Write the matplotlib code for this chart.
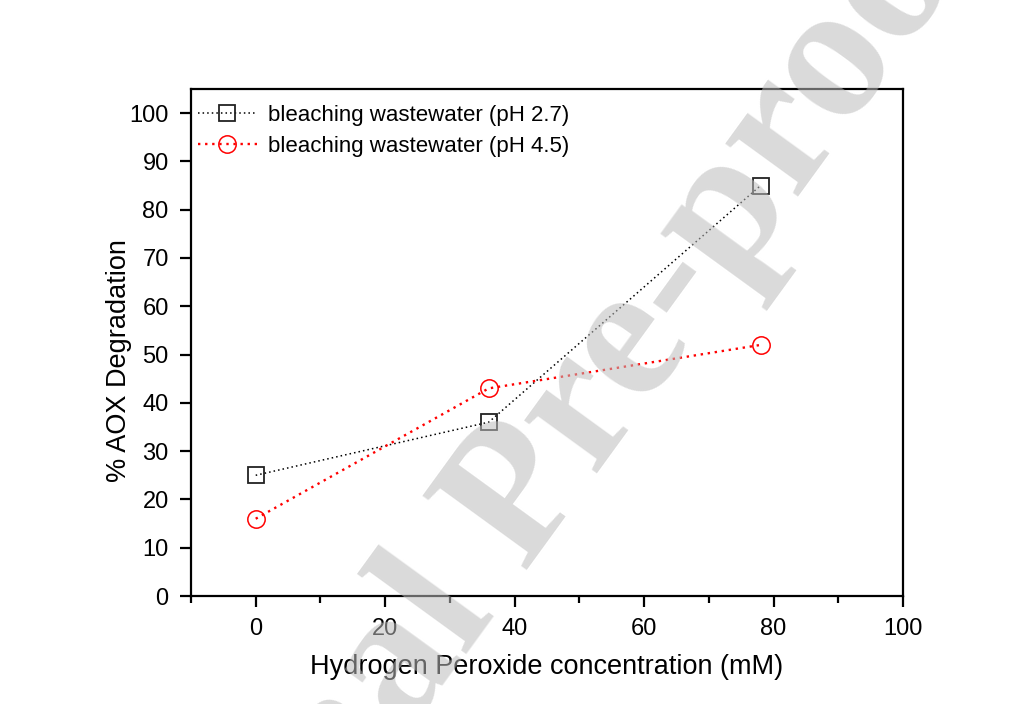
import matplotlib
matplotlib.use('Agg')
import matplotlib.pyplot as plt
from matplotlib.ticker import MultipleLocator

plt.rcParams['font.family'] = ['Liberation Sans', 'DejaVu Sans']

h2o2_mM = [0, 36, 78]
aox_ph27 = [25, 36, 85]
aox_ph45 = [16, 43, 52]
label_ph27 = 'bleaching wastewater (pH 2.7)'
label_ph45 = 'bleaching wastewater (pH 4.5)'

fig = plt.figure(figsize=(10.30, 7.04), dpi=100)
ax = fig.add_axes([0.1854, 0.1534, 0.6913, 0.7202])

ax.plot(h2o2_mM, aox_ph27, linestyle=(0, (1, 2)), color='black', linewidth=1.1,
        marker='s', markersize=11, markerfacecolor='none', markeredgecolor='#222222',
        markeredgewidth=1.3, label=label_ph27)
ax.plot(h2o2_mM, aox_ph45, linestyle=(0, (1, 2)), color='red', linewidth=1.7,
        marker='o', markersize=12.5, markerfacecolor='none', markeredgecolor='red',
        markeredgewidth=1.1, label=label_ph45)

ax.set_xlim(-10, 100)
ax.set_ylim(0, 105)
ax.xaxis.set_major_locator(MultipleLocator(20))
ax.xaxis.set_minor_locator(MultipleLocator(10))
ax.yaxis.set_major_locator(MultipleLocator(10))
ax.set_xticks(range(0, 101, 20))

for s in ax.spines.values():
    s.set_linewidth(1.6)
ax.tick_params(which='major', direction='out', length=8, width=1.6, labelsize=17, pad=8)
ax.tick_params(which='minor', direction='out', length=5, width=1.6)
ax.tick_params(axis='y', which='minor', left=False)

ax.set_xlabel('Hydrogen Peroxide concentration (mM)', fontsize=19.5, labelpad=10)
ax.set_ylabel('% AOX Degradation', fontsize=19.5)
ax.yaxis.set_label_coords(-0.083, 0.465)

ax.legend(loc='upper left', bbox_to_anchor=(-0.003, 0.9866), frameon=False,
          fontsize=16, handlelength=2.65, handletextpad=0.5, borderaxespad=0,
          labelspacing=0.45)

# journal watermark across the page
fig.text(0.54, 0.247, 'Journal Pre-proof', family='Liberation Serif', weight='bold',
         fontsize=140, color='#bcbcbc', alpha=0.55, rotation=54,
         ha='center', va='baseline', rotation_mode='anchor', zorder=10)

fig.savefig('out.png', dpi=100)
